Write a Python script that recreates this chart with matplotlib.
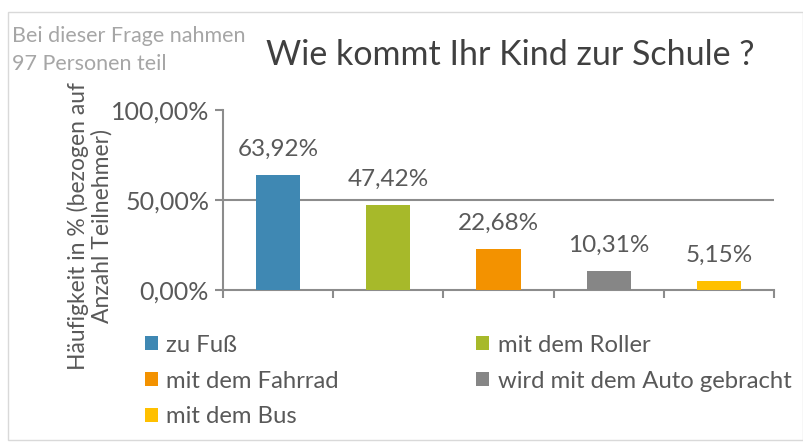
import matplotlib
matplotlib.use("Agg")
import matplotlib.pyplot as plt
from matplotlib.patches import Patch, Rectangle

categories = ["zu Fuß", "mit dem Roller", "mit dem Fahrrad", "wird mit dem Auto gebracht", "mit dem Bus"]
values = [63.92, 47.42, 22.68, 10.31, 5.15]
colors = ["#3F88B3", "#A7B92A", "#F39200", "#868686", "#FFC000"]
y_ticks = [0, 50, 100]
y_tick_labels = ["0,00%", "50,00%", "100,00%"]
title = "Wie kommt Ihr Kind zur Schule ?"
note = "Bei dieser Frage nahmen\n97 Personen teil"
y_label = "Häufigkeit in % (bezogen auf\nAnzahl Teilnehmer)"

plt.rcParams['font.family'] = ['Lato', 'DejaVu Sans']
TXT = "#595959"
AX = "#8C8C8C"

fig = plt.figure(figsize=(8.04, 4.43), dpi=100)
W, H = 804, 443
fig.patches.append(Rectangle((8 / W, 3 / H), 795 / W, 428 / H, transform=fig.transFigure,
                             fill=False, edgecolor="#D9D9D9", linewidth=1))

ax = fig.add_axes([223 / W, 1 - 290 / H, (774 - 223) / W, (290 - 110) / H])
x = list(range(len(values)))
ax.bar(x, values, width=0.4, color=colors, zorder=3)
for xi, v in zip(x, values):
    ax.annotate(f"{v:.2f}%".replace(".", ","), (xi, v), xytext=(0, 11), textcoords="offset points",
                ha="center", va="bottom", fontsize=17.5, color=TXT)

ax.set_xlim(-0.5, len(values) - 0.5)
ax.set_ylim(0, 100)
ax.set_yticks(y_ticks)
ax.set_yticklabels(y_tick_labels, fontsize=18, color=TXT)
ax.set_xticks([i - 0.5 for i in range(len(values) + 1)])
ax.set_xticklabels([])
ax.tick_params(axis="x", direction="out", length=6, color=AX, width=1.5)
ax.tick_params(axis="y", direction="out", length=6, color=AX, width=1.5, pad=4)
ax.axhline(50, color=AX, linewidth=1.5, zorder=1)
for s in ["top", "right"]:
    ax.spines[s].set_visible(False)
for s in ["left", "bottom"]:
    ax.spines[s].set_color(AX)
    ax.spines[s].set_linewidth(1.5)
ax.set_ylabel(y_label, fontsize=16.5, color=TXT, linespacing=1.15)
ax.yaxis.set_label_coords(-0.2, 0.355)

fig.text(510 / W, 1 - 55 / H, title, fontsize=24.5, color="#404040", ha="center", va="center")
fig.text(12 / W, 1 - 50 / H, note, fontsize=15.5, color="#A6A6A6", ha="left", va="center", linespacing=1.45)

order = [0, 2, 4, 1, 3]
handles = [Patch(facecolor=colors[i], edgecolor="none") for i in order]
labels = [categories[i] for i in order]
fig.legend(handles, labels, ncol=2, loc="upper left", bbox_to_anchor=(128 / W, 1 - 318 / H),
           frameon=False, fontsize=17.2, labelcolor=TXT, handlelength=0.55, handleheight=0.55,
           handletextpad=0.35, columnspacing=5.75, labelspacing=0.62, borderpad=0.2)

fig.savefig("out.png", dpi=100)
